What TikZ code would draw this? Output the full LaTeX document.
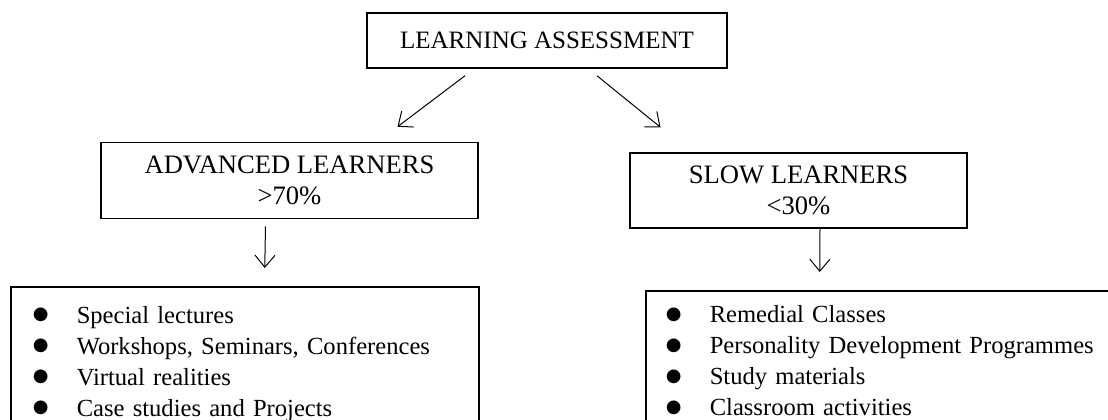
\documentclass[tikz,border=0pt]{standalone}
\usepackage{fontspec}
\setmainfont{Liberation Serif}
\newfontfamily\symfont{DejaVu Sans}
\usetikzlibrary{arrows.meta}
\newcommand{\bull}{\makebox[22pt][l]{\raisebox{1.6pt}{\symfont\fontsize{9}{0}\selectfont ●}}}
\begin{document}
\begin{tikzpicture}[x=0.5pt,y=-0.5pt,>={Straight Barb[length=6pt,width=10pt]},
    box/.style={draw,line width=0.75pt,align=center,inner sep=0pt,
      font=\fontsize{13.3}{15.5}\selectfont},
    listbox/.style={draw,line width=0.75pt,align=left,anchor=north west,
      inner ysep=0pt,font=\fontsize{12.3}{15.5}\selectfont},
    link/.style={->,line width=0.5pt}]
    \clip (0,0) rectangle (1108,419);

    \node (assess) [box,minimum width=180pt,minimum height=27.5pt,font=\fontsize{12.5}{15.5}\selectfont] at (547,40.5) {LEARNING ASSESSMENT};
    \node (adv) [box,minimum width=188.5pt,minimum height=38pt] at (289.5,180.5) {ADVANCED LEARNERS\\>70\%};
    \node (slow) [box,minimum width=168.5pt,minimum height=37.5pt] at (798.5,190.5) {SLOW LEARNERS\\<30\%};

    \node (advlist) [listbox,text width=212pt,inner xsep=11pt,minimum height=77pt] at (10,286) {
      \bull Special lectures\\
      \bull Workshops, Seminars, Conferences\\
      \bull Virtual realities\\
      \bull Case studies and Projects};
    \node (slowlist) [listbox,text width=230pt,inner xsep=10pt,minimum height=70pt] at (645,290) {
      \bull Remedial Classes\\
      \bull Personality Development Programmes\\
      \bull Study materials\\
      \bull Classroom activities};

    \draw[link] ([shift={(-41pt,-3.5pt)}]assess.south) -- ([shift={(54pt,7.5pt)}]adv.north);
    \draw[link] ([shift={(25pt,-3.5pt)}]assess.south) -- ([shift={(-69pt,12.5pt)}]slow.north);
    \draw[link] ([shift={(-12pt,-3.5pt)}]adv.south) -- ([shift={(10pt,9pt)}]advlist.north);
    \draw[link] ([xshift=10.75pt]slow.south) -- ([shift={(-38pt,9pt)}]slowlist.north);
\end{tikzpicture}
\end{document}
